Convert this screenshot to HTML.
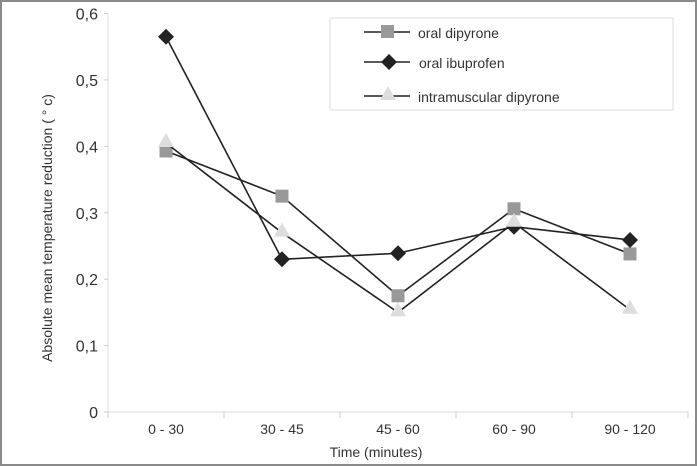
<!DOCTYPE html>
<html><head><meta charset="utf-8"><style>
html,body{margin:0;padding:0;background:#fff}
svg{display:block}
text{font-family:"Liberation Sans",sans-serif;fill:#333}
</style></head><body>
<svg id="chart" width="697" height="466" viewBox="0 0 697 466">
<rect x="1" y="1" width="695" height="464" fill="#fff" stroke="#8a8a8a" stroke-width="2"/>
<g id="axes"></g>
<g id="series"></g>
<g>
<rect x="330" y="18" width="343" height="92" fill="#fff" stroke="#ddd"/>
<g>
<line x1="364" y1="32" x2="410" y2="32" stroke="#222" stroke-width="1.6"/>
<rect x="381" y="25" width="13" height="13" fill="#999"/>
<text x="418" y="38" font-size="14">oral dipyrone</text></g>
<g>
<line x1="364" y1="62" x2="410" y2="62" stroke="#222" stroke-width="1.6"/>
<polygon points="389,54 397,62 389,70 381,62" fill="#222"/>
<text x="419" y="68" font-size="14">oral ibuprofen</text></g>
<g>
<line x1="364" y1="96" x2="410" y2="96" stroke="#222" stroke-width="1.6"/>
<polygon points="388,86 396,100 380,100" fill="#ddd"/>
<text x="418" y="102" font-size="14">intramuscular dipyrone</text></g>
</g>
<text x="376" y="457" font-size="14" text-anchor="middle">Time (minutes)</text>
<text transform="translate(52,228) rotate(-90)" font-size="14" text-anchor="middle">Absolute mean temperature reduction ( ° c)</text>
</svg>
<script>
const categories = ["0 - 30","30 - 45","45 - 60","60 - 90","90 - 120"];
const oralDipyrone = [0.393,0.325,0.175,0.306,0.238];
const oralIbuprofen = [0.565,0.230,0.239,0.279,0.259];
const imDipyrone = [0.405,0.270,0.150,0.285,0.154];
const yTicks = [0,0.1,0.2,0.3,0.4,0.5,0.6];
const yTickLabels = ["0","0,1","0,2","0,3","0,4","0,5","0,6"];

const NS="http://www.w3.org/2000/svg";
const x0=108,x1=688,yBase=412,yTop=13.5,yMax=0.6;
const step=(x1-x0)/categories.length;
const xS=i=>x0+step*(i+0.5);
const yS=v=>yBase-(v/yMax)*(yBase-yTop);
function mk(tag,attrs,parent){const e=document.createElementNS(NS,tag);for(const k in attrs)e.setAttribute(k,attrs[k]);parent.appendChild(e);return e;}
const axes=document.getElementById('axes'),series=document.getElementById('series');
let a=mk('line',{x1:x0,y1:yTop,x2:x0,y2:yBase,stroke:'#ddd','stroke-width':1},axes);


a=mk('line',{x1:x0,y1:yBase,x2:x1,y2:yBase,stroke:'#ddd','stroke-width':1},axes);


yTicks.forEach((v,i)=>{
  const y=yS(v);
  const t=mk('line',{x1:x0-4,y1:y,x2:x0,y2:y,stroke:'#ccc'},axes);
  
  
  const l=mk('text',{x:x0-10,y:y+6,'font-size':16,'text-anchor':'end'},axes);
  l.textContent=yTickLabels[i];
  
  
});
for(let i=0;i<=categories.length;i++){
  const x=x0+step*i;
  const t=mk('line',{x1:x,y1:yBase,x2:x,y2:yBase+6,stroke:'#ccc'},axes);
  
  
}
categories.forEach((c,i)=>{
  const l=mk('text',{x:xS(i),y:434,'font-size':14,'text-anchor':'middle'},axes);
  l.textContent=c;
  
  
});
function drawSeries(vals,name){
  const g=mk('g',{},series);
  
  
  const pl=mk('polyline',{points:vals.map((v,i)=>xS(i)+','+yS(v)).join(' '),fill:'none',stroke:'#222','stroke-width':1.6},g);
  
  
  return g;
}
function markers(g,vals,name,marker){
  vals.forEach((v,i)=>{
    const x=xS(i),y=yS(v);let m;
    if(marker==='square')m=mk('rect',{x:x-6.5,y:y-6.5,width:13,height:13,fill:'#999'},g);
    else if(marker==='diamond')m=mk('polygon',{points:`${x},${y-8} ${x+8},${y} ${x},${y+8} ${x-8},${y}`,fill:'#222'},g);
    else m=mk('polygon',{points:`${x},${y-10} ${x+8},${y+4} ${x-8},${y+4}`,fill:'#ddd'},g);
    
    
  });
}
const gD=drawSeries(oralDipyrone,'oral-dipyrone');
const gI=drawSeries(oralIbuprofen,'oral-ibuprofen');
const gM=drawSeries(imDipyrone,'intramuscular-dipyrone');
markers(gM,imDipyrone,'intramuscular-dipyrone','triangle');
markers(gI,oralIbuprofen,'oral-ibuprofen','diamond');
markers(gD,oralDipyrone,'oral-dipyrone','square');
</script>
</body></html>
